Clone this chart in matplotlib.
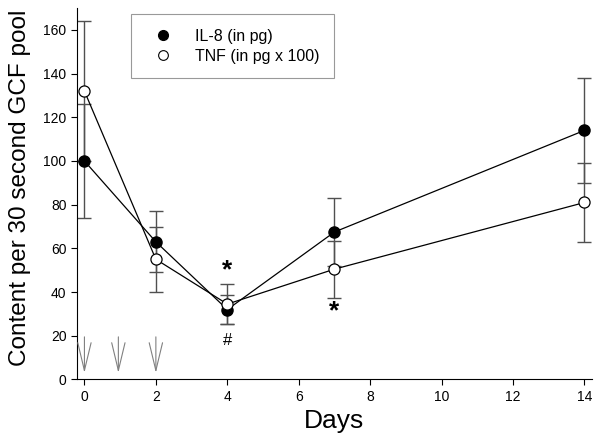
import numpy as np
import matplotlib.pyplot as plt
from matplotlib.lines import Line2D

plt.rcParams.update({'font.family': 'Liberation Sans',
                     'xtick.labelsize': 10,
                     'ytick.labelsize': 10})

days = [0, 2, 4, 7, 14]
il8 = [100, 63, 32, 67.5, 114]
il8_err = [26, 14, 6.5, 15.5, 24]
tnf = [132, 55, 34.5, 50.5, 81]
tnf_err = [32, 15, 9, 13, 18]

# rinse days (arrows at the bottom)
arrow_days = [0, 0.95, 2]
arrow_top = 19.5
arrow_tip = 3

fig = plt.figure(figsize=(6.01, 4.48), dpi=100)
ax = fig.add_axes([0.128, 0.153, 0.857, 0.829])

# error bars first, markers on top
ax.errorbar(days, il8, yerr=il8_err, fmt='none', ecolor='#505050', elinewidth=1,
            capsize=4.7, capthick=1, zorder=1)
ax.errorbar(days, tnf, yerr=tnf_err, fmt='none', ecolor='#505050', elinewidth=1,
            capsize=4.7, capthick=1, zorder=1)
ax.plot(days, il8, color='black', lw=0.9, marker='o', ms=8,
        mfc='black', mec='black', zorder=3)
ax.plot(days, tnf, color='black', lw=0.9, marker='o', ms=8,
        mfc='white', mec='black', mew=0.9, zorder=4)

for d in arrow_days:
    ax.annotate('', xy=(d, arrow_tip), xytext=(d, arrow_top),
                arrowprops=dict(arrowstyle='->,head_length=20,head_width=4.8',
                                mutation_scale=1, color='#808080', lw=0.8,
                                shrinkA=0, shrinkB=0))

ax.text(4, 50, '*', ha='center', va='center', fontsize=19, fontweight='bold')
ax.text(4, 18, '#', ha='center', va='center', fontsize=12)
ax.text(7, 31, '*', ha='center', va='center', fontsize=19, fontweight='bold')

ax.set_xlim(-0.21, 14.21)
ax.set_ylim(0, 170)
ax.set_xticks(range(0, 15, 2))
ax.set_yticks(range(0, 161, 20))
ax.spines['top'].set_visible(False)
ax.spines['right'].set_visible(False)
ax.tick_params(direction='out', length=4)

ax.set_xlabel('Days', fontsize=19)
ax.set_ylabel('Content per 30 second GCF pool', fontsize=17.5)
ax.yaxis.set_label_coords(-0.09, 0.517)

handles = [Line2D([], [], ls='none', marker='o', ms=7, mfc='black', mec='black'),
           Line2D([], [], ls='none', marker='o', ms=7, mfc='white', mec='black', mew=0.8)]
leg = ax.legend(handles, ['IL-8 (in pg)', 'TNF (in pg x 100)'], loc='upper left',
                bbox_to_anchor=(0.105, 0.983), fontsize=11.5, frameon=True,
                fancybox=False, borderpad=0.9, handlelength=2.2, handletextpad=0.9,
                labelspacing=0.3, borderaxespad=0)
leg.get_frame().set_edgecolor('#808080')
leg.get_frame().set_linewidth(0.8)

fig.savefig('out.png', dpi=100)
